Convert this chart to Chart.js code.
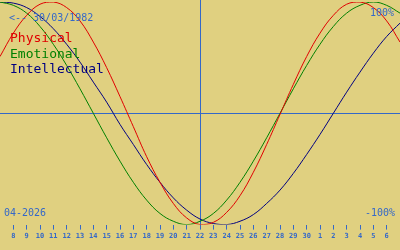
<!DOCTYPE html>
<html>
<head>
<meta charset="utf-8">
<script src="https://cdn.jsdelivr.net/npm/chart.js@4"></script>
<style>
  html, body { margin: 0; padding: 0; background: #e0d080; }
  #wrap { width: 400px; height: 250px; }
</style>
</head>
<body>
<div id="wrap"><canvas id="bioChart" width="400" height="250"></canvas></div>
<script>
// x = day counted from 1 April 2026 (7 .. 37 = 7 April .. 7 May)
var days = [7, 8, 9, 10, 11, 12, 13, 14, 15, 16, 17, 18, 19, 20, 21, 22,
            23, 24, 25, 26, 27, 28, 29, 30, 31, 32, 33, 34, 35, 36, 37];
// tick labels for days 8 .. 36
var dayLabels = ['8', '9', '10', '11', '12', '13', '14', '15', '16', '17', '18', '19', '20', '21', '22',
                 '23', '24', '25', '26', '27', '28', '29', '30', '1', '2', '3', '4', '5', '6'];

// values in %, one per day
var physical =     [51, 72, 88, 98, 100, 95, 83, 64, 41, 15, -12, -39, -62, -81, -94, -100,
                    -98, -89, -74, -53, -28, -1, 26, 51, 72, 88, 98, 100, 95, 83, 64];
var emotional =    [100, 97, 90, 78, 62, 43, 22, 0, -22, -43, -62, -78, -90, -97, -100, -97,
                    -90, -78, -62, -43, -22, 0, 22, 43, 62, 78, 90, 97, 100, 97, 90];
var intellectual = [100, 99, 95, 87, 76, 62, 46, 28, 10, -10, -28, -46, -62, -76, -87, -95,
                    -99, -100, -97, -91, -81, -69, -54, -37, -19, 0, 19, 37, 54, 69, 81];

var today = 22;
var birthText = '<-- 30/03/1982';
var monthText = '04-2026';
var topText = '100%';
var bottomText = '-100%';

var BG = '#e0d080';
var BLUE = '#3468c8';
var MONO = '"DejaVu Sans Mono", monospace';

function toPoints(vals) {
  return days.map(function(d, i) { return { x: d, y: vals[i] }; });
}

var decor = {
  id: 'decor',
  beforeDraw: function(chart) {
    var c = chart.ctx;
    c.save();
    c.fillStyle = BG;
    c.fillRect(0, 0, chart.width, chart.height);
    c.restore();
  },
  beforeDatasetsDraw: function(chart) {
    var c = chart.ctx, a = chart.chartArea;
    var x = chart.scales.x, y = chart.scales.y;
    var y0 = Math.round(y.getPixelForValue(0)) + 0.5;
    var xt = Math.round(x.getPixelForValue(today)) + 0.5;
    c.save();
    c.strokeStyle = BLUE;
    c.lineWidth = 1;
    c.beginPath();
    c.moveTo(0, y0); c.lineTo(chart.width, y0);
    c.moveTo(xt, 0); c.lineTo(xt, a.bottom);
    c.stroke();
    c.restore();
  },
  afterDraw: function(chart) {
    var c = chart.ctx;
    c.save();
    c.textBaseline = 'alphabetic';
    c.font = '10px ' + MONO;
    c.fillStyle = BLUE;
    c.textAlign = 'left';
    c.fillText(birthText, 9, 21);
    c.fillText(monthText, 4, 216);
    c.textAlign = 'right';
    c.fillText(topText, 394, 16);
    c.fillText(bottomText, 395, 216);
    c.textAlign = 'left';
    c.font = '13px ' + MONO;
    chart.data.datasets.forEach(function(ds, i) {
      c.fillStyle = ds.borderColor;
      c.fillText(ds.label, 10, 42 + i * 15.5);
    });
    c.restore();
  }
};

new Chart(document.getElementById('bioChart'), {
  type: 'line',
  data: {
    datasets: [
      { label: 'Physical', data: toPoints(physical), borderColor: '#e00000' },
      { label: 'Emotional', data: toPoints(emotional), borderColor: '#008000' },
      { label: 'Intellectual', data: toPoints(intellectual), borderColor: '#000080' }
    ]
  },
  plugins: [decor],
  options: {
    responsive: false,
    animation: false,
    layout: { padding: { top: 2, left: 0, right: 0, bottom: 8 } },
    elements: {
      line: { borderWidth: 1, tension: 0.4, fill: false },
      point: { radius: 0 }
    },
    plugins: { legend: { display: false }, tooltip: { enabled: false } },
    scales: {
      x: {
        type: 'linear',
        min: 7,
        max: 37,
        afterBuildTicks: function(scale) {
          scale.ticks = days.slice(1, -1).map(function(d) { return { value: d }; });
        },
        ticks: {
          autoSkip: false,
          maxRotation: 0,
          padding: 2,
          color: BLUE,
          font: { family: MONO, size: 7, weight: 'bold' },
          callback: function(v) { return dayLabels[v - 8]; }
        },
        grid: { drawOnChartArea: false, color: BLUE, tickLength: 5 },
        border: { display: false }
      },
      y: { display: false, min: -100, max: 100 }
    }
  }
});
</script>
</body>
</html>
